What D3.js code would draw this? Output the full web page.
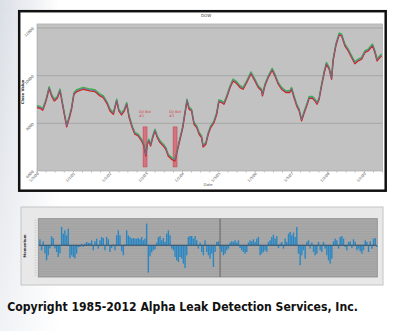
<!DOCTYPE html>
<html><head><meta charset="utf-8">
<script src="https://cdn.jsdelivr.net/npm/d3@7"></script>
<style>html,body{margin:0;padding:0;background:#fff;overflow:hidden}svg{display:block}</style>
</head><body>
<svg id="c" width="400" height="331"></svg>
<script>
// ---------- DATA ----------
const chartTitle = "DOW";
const months = [0,1.0,1.9,3.0,4.0,4.8,5.7,6.7,7.6,8.3,
 9.0,9.8,10.7,11.4,12.2,13.1,15.3,17.5,19.1,20.8,
 21.9,23.2,24.1,25.2,26.3,27.0,27.9,28.8,29.6,30.4,
 31.4,32.3,33.4,34.5,35.3,35.9,36.4,36.9,37.5,38.2,
 38.9,39.7,40.6,41.7,42.5,43.3,44.4,45.5,46.3,47.2,
 48.1,48.8,49.5,50.2,51.0,51.8,52.7,53.5,54.3,54.8,
 55.7,56.5,57.3,58.4,59.3,60.0,60.9,61.7,62.6,63.7,
 64.7,65.9,67.0,68.0,69.2,70.6,71.9,73.0,74.1,74.4,
 75.2,76.3,77.6,78.5,79.6,80.7,82.1,83.4,84.0,84.8,
 85.7,86.5,87.3,88.2,89.0,89.8,90.9,91.7,92.4,93.1,
 93.9,94.8,95.5,96.4,97.2,97.7,98.6,99.7,100.5,101.6,
 102.7,103.8,104.9,106.0,107.1,108.2,109.3,110.7,111.5,112.2,
 113.1,113.7];
const closeValues = [8700,8670,8590,8980,9500,9190,8980,9090,9400,8910,
 8420,7890,8280,8630,9260,9370,9470,9400,9370,9190,
 9120,8840,8560,8420,8980,8560,8390,8560,8840,8280,
 7860,7580,7510,7300,7090,6670,7160,7300,7090,7440,
 7720,7440,7230,7090,6950,6670,6530,6460,6880,7370,
 7860,8420,8980,8630,8560,8000,7860,7580,7440,7050,
 7160,7580,7860,8070,8420,8950,8910,8840,9120,9540,
 9820,9710,9540,9470,9750,10120,9820,9540,9400,9190,
 9610,9960,10270,10030,9680,9470,9330,9330,9470,9120,
 8770,8560,8140,8490,8770,9090,9090,8980,8840,9050,
 9610,10170,10520,10310,9890,10660,11290,11750,11710,11290,
 11080,10800,10540,10660,10730,11010,11080,11290,11010,10660,
 10800,10870];
const yTickValues = [6000, 8000, 10000, 12000];
const yTickLabels = ["6000", "8000", "10000", "12000"];
const xTickMonths = [0, 12, 24, 36, 48, 60, 72, 84, 96, 108];
const xTickLabels = ["1/3/00","1/2/01","1/2/02","1/2/03","1/2/04","1/3/05","1/3/06","1/3/07","1/2/08","1/2/09"];
const xMinorMonths = d3.range(0, 115, 3);
const eventStart = [35.0, 44.9];
const eventEnd = [36.3, 46.2];
const eventLow = [6170, 6170];
const eventHigh = [7850, 7850];
const eventLabel1 = ["DJI Bot", "DJI Bot"];
const eventLabel2 = ["#1", "#2"];
const momentum = [6,-5,4,-8,-15,-10,-3,9,7,-3,
 -6.7,-11.7,-8,18.3,11.7,15,10,16.7,-13,-10,
 -11.7,-13,-8.3,-2,-1.7,1.5,-1.5,1.7,3.3,2.3,
 2.3,5,-5,4,6.7,-3.3,5,8.3,7.3,-5,
 8.3,6,-6.7,-2.7,1,-5,10,15,10,-6,
 -10,1,15,10,8.3,6.7,7.3,6.7,6.7,7.3,
 6,8.3,5,6.7,21.7,-27.3,-11,-7,-5,-4,
 2.7,8,9.3,5,7.3,3.3,11.7,15,10,-3.3,
 -5,-11.7,-15,-16.7,-11.7,-13.3,-18.3,-22.7,-10,8.3,
 9.3,9.3,6.7,9.3,5,-3.3,2.7,-6.7,-10,
 5,-6.7,-10,-13.3,-8.3,-21.7,-6.7,3.3,4,-3.3,
 -6.7,-10,-8.3,-5,-3.3,2.7,4,3.3,5,2.7,
 5,-2.7,-5,-6.7,-8.3,-6.7,2.7,5,4,6,
 3.3,6.7,8.3,-10,-8.3,-6.7,-5,-6.7,3.3,5,
 8.3,10.7,6.7,9.3,-2.7,1.7,3.3,-3.3,6.7,3.3,
 11.7,13.3,10,12.7,8.3,18.3,-8.3,-20,-10,-5,
 -13.3,3.3,5,-3.3,2.7,-6.7,-10,-8.3,3.3,-5,
 -6.7,3.3,-3.3,-10,-15,-18.3,-13.3,4,6.7,5,
 -3.3,8.3,9.3,6.7,-1.7,-5,3.3,4,-2.7,6,
 3.3,-5,-3.3,-6,-8.3,-5,5,3.3,-6.7,4,
 -3.3,6.7,7.3,-1.7];
const momentumMarkerIndex = 108;
const momentumDomain = [-31.7, 26.6];
const copyright = "Copyright 1985-2012 Alpha Leak Detection Services, Inc.";

// ---------- DRAW ----------
const svg = d3.select("#c");
const defs = svg.append("defs");
const bg = defs.append("linearGradient").attr("id","bg").attr("x1","0").attr("x2","1").attr("y1","0").attr("y2","0");
bg.append("stop").attr("offset","0").attr("stop-color","#dadfe6");
bg.append("stop").attr("offset","1").attr("stop-color","#ffffff");
const bgv = defs.append("linearGradient").attr("id","bgv").attr("x1","0").attr("x2","0").attr("y1","0").attr("y2","1");
bgv.append("stop").attr("offset","0").attr("stop-color","#fff").attr("stop-opacity",0);
bgv.append("stop").attr("offset","1").attr("stop-color","#fff").attr("stop-opacity",0.6);
svg.append("rect").attr("width",400).attr("height",331).attr("fill","#fff");
svg.append("rect").attr("width",60).attr("height",331).attr("fill","url(#bg)");
svg.append("rect").attr("width",60).attr("height",331).attr("fill","url(#bgv)");

// ---- top chart ----
svg.append("rect").attr("x",19.2).attr("y",11.2).attr("width",366.5).attr("height",179.5)
  .attr("fill","#fff").attr("stroke","#111").attr("stroke-width",2.5);

const x = d3.scaleLinear().domain([0, 114]).range([37, 382.5]);
const y = d3.scaleLinear().domain([6000, 12000]).range([171, 28]);

const pTop = y(12170), pBot = y(6000);
svg.append("rect").attr("x",x(0)).attr("y",pTop).attr("width",x(114)-x(0)).attr("height",pBot-pTop)
  .attr("fill","#c2c2c2").attr("stroke","#a4a4a4").attr("stroke-width",0.6);

svg.append("g").selectAll("line").data(yTickValues.slice(1)).join("line")
  .attr("x1",x(0)).attr("x2",x(114)).attr("y1",d=>y(d)).attr("y2",d=>y(d))
  .attr("stroke","#9c9c9c").attr("stroke-width",0.7);

// minor x ticks
svg.append("g").selectAll("line").data(xMinorMonths).join("line")
  .attr("x1",d=>x(d)).attr("x2",d=>x(d)).attr("y1",pBot).attr("y2",pBot+1.5)
  .attr("stroke","#888").attr("stroke-width",0.5);

// y labels
svg.append("g").selectAll("text").data(yTickValues).join("text")
  .attr("transform",(d)=>`translate(${x(0)-3},${y(d)+1}) rotate(-45)`)
  .attr("text-anchor","end").attr("font-family","DejaVu Sans").attr("font-size",3.6).attr("fill","#555")
  .text((d,i)=>yTickLabels[i]);
// x labels
svg.append("g").selectAll("text").data(xTickMonths).join("text")
  .attr("transform",(d)=>`translate(${x(d)+2},${pBot+3}) rotate(-45)`)
  .attr("text-anchor","end").attr("font-family","DejaVu Sans").attr("font-size",3.6).attr("fill","#555")
  .text((d,i)=>xTickLabels[i]);

svg.append("text").attr("x",206).attr("y",16.5).attr("text-anchor","middle")
  .attr("font-family","DejaVu Sans").attr("font-size",4).attr("fill","#444").text(chartTitle);
svg.append("text").attr("x",208).attr("y",185.5).attr("text-anchor","middle")
  .attr("font-family","DejaVu Sans").attr("font-size",3.8).attr("fill","#555").text("Date");
svg.append("text").attr("transform","translate(23.5,92) rotate(-90)").attr("text-anchor","middle")
  .attr("font-family","DejaVu Sans").attr("font-weight","bold").attr("font-size",3.8).attr("fill","#333").text("Close Value");

// event bars
const ev = d3.range(eventStart.length);
svg.append("g").selectAll("rect").data(ev).join("rect")
  .attr("x",i=>x(eventStart[i])).attr("width",i=>x(eventEnd[i])-x(eventStart[i]))
  .attr("y",i=>y(eventHigh[i])).attr("height",i=>y(eventLow[i])-y(eventHigh[i]))
  .attr("fill","#d9606e").attr("fill-opacity",0.8).attr("stroke","#c43a4a").attr("stroke-width",0.5);
svg.append("g").selectAll("text").data(ev).join("text")
  .attr("x",i=>x(eventStart[i])-4).attr("y",i=>y(eventHigh[i])-14)
  .attr("font-family","DejaVu Sans").attr("font-size",3.6).attr("fill","#d2404f")
  .text(i=>eventLabel1[i]);
svg.append("g").selectAll("text").data(ev).join("text")
  .attr("x",i=>x(eventStart[i])-4).attr("y",i=>y(eventHigh[i])-9.5)
  .attr("font-family","DejaVu Sans").attr("font-size",3.6).attr("fill","#d2404f")
  .text(i=>eventLabel2[i]);

// series
const pts = d3.zip(months, closeValues);
const line = d3.line().x(d=>x(d[0])).y(d=>y(d[1]));
svg.append("path").attr("d",line(pts)).attr("fill","none").attr("stroke","#3fb34a")
  .attr("stroke-width",1.4).attr("transform","translate(0,-0.9)").attr("stroke-linejoin","round");
svg.append("path").attr("d",line(pts)).attr("fill","none").attr("stroke","#d41f1f")
  .attr("stroke-width",1.4).attr("transform","translate(0,0.9)").attr("stroke-linejoin","round");
svg.append("path").attr("d",line(pts)).attr("fill","none").attr("stroke","#6478a4")
  .attr("stroke-width",0.9).attr("stroke-linejoin","round");

// ---- bottom chart ----
svg.append("rect").attr("x",21).attr("y",207).attr("width",362).attr("height",78)
  .attr("fill","#e8e8e8").attr("stroke","#c4c4c4").attr("stroke-width",1);
const xb = d3.scaleBand().domain(d3.range(momentum.length)).range([39.2, 377.6]).paddingInner(0.15);
const yb = d3.scaleLinear().domain(momentumDomain).range([277, 218.7]);
svg.append("rect").attr("x",38.3).attr("y",yb(momentumDomain[1])).attr("width",339).attr("height",yb(momentumDomain[0])-yb(momentumDomain[1]))
  .attr("fill","#a3a3a3").attr("stroke","#8a8a8a").attr("stroke-width",0.8);
const gridVals = d3.range(-30, 26, 2.5);
svg.append("g").selectAll("line").data(gridVals).join("line")
  .attr("x1",38.8).attr("x2",376.8).attr("y1",d=>yb(d)).attr("y2",d=>yb(d))
  .attr("stroke","#b3b3b3").attr("stroke-width",0.5);
svg.append("g").selectAll("line").data(gridVals).join("line")
  .attr("x1",34.5).attr("x2",36.5).attr("y1",d=>yb(d)).attr("y2",d=>yb(d))
  .attr("stroke","#bdbdbd").attr("stroke-width",0.6);
svg.append("text").attr("transform","translate(26,246) rotate(-90)").attr("text-anchor","middle")
  .attr("font-family","DejaVu Sans").attr("font-weight","bold").attr("font-size",3.6).attr("fill","#333").text("Momentum");
svg.append("line").attr("x1",xb(momentumMarkerIndex)+xb.bandwidth()/2).attr("x2",xb(momentumMarkerIndex)+xb.bandwidth()/2)
  .attr("y1",yb(momentumDomain[1])).attr("y2",yb(momentumDomain[0])).attr("stroke","#5e5e5e").attr("stroke-width",0.9);
svg.append("g").selectAll("rect").data(momentum).join("rect")
  .attr("x",(d,i)=>xb(i)).attr("width",xb.bandwidth())
  .attr("y",d=>yb(Math.max(0,d))).attr("height",d=>Math.abs(yb(d)-yb(0)))
  .attr("fill","#2b87c3");
svg.append("line").attr("x1",38.8).attr("x2",376.8).attr("y1",yb(0)).attr("y2",yb(0))
  .attr("stroke","#2f4d66").attr("stroke-width",1.1);

// copyright
svg.append("text").attr("x",7.3).attr("y",310.5).attr("textLength",350.5).attr("lengthAdjust","spacingAndGlyphs")
  .attr("font-family","'DejaVu Sans Condensed','Liberation Sans Narrow',sans-serif").attr("font-weight","bold")
  .attr("font-size",13).attr("fill","#111").text(copyright);
</script>
</body></html>
